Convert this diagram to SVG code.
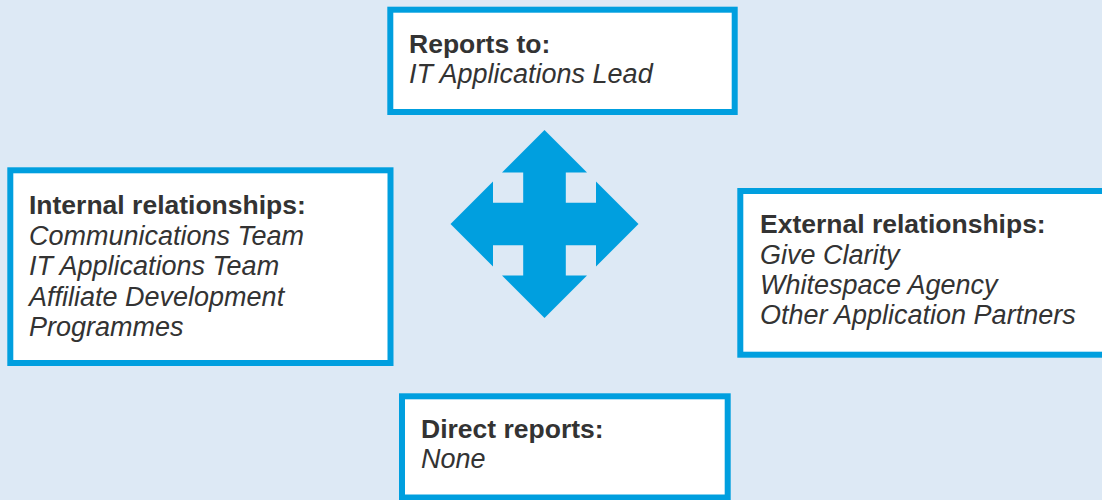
<svg xmlns="http://www.w3.org/2000/svg" width="1102" height="500" viewBox="0 0 1102 500">
  <style>
    .box { fill: #ffffff; stroke: #009fdf; stroke-width: 6; }
    .h { font-family: "Liberation Sans", Arial, sans-serif; font-size: 26.5px; font-weight: bold; fill: #333333; }
    .t { font-family: "Liberation Sans", Arial, sans-serif; font-size: 27px; font-style: italic; fill: #333333; }
    .arrow { fill: #009fdf; }
  </style>
  <rect width="1102" height="500" fill="#dde9f5"/>
  <g id="connectors">
    <path class="arrow" d="M544.5,130 L587,172.5 L565.8,172.5 L565.8,202.7 L596,202.7 L596,181.5 L638.5,224 L596,266.5 L596,245.3 L565.8,245.3 L565.8,275.5 L587,275.5 L544.5,318 L502,275.5 L523.2,275.5 L523.2,245.3 L493,245.3 L493,266.5 L450.5,224 L493,181.5 L493,202.7 L523.2,202.7 L523.2,172.5 L502,172.5 Z"/>
  </g>
  <g id="reports-to">
    <rect class="box" x="390.3" y="9.7" width="344.4" height="102.3"/>
    <text class="h" x="409" y="53.3">Reports to:</text>
    <text class="t" x="409" y="83.3">IT Applications Lead</text>
  </g>
  <g id="internal">
    <rect class="box" x="10.3" y="170.3" width="380.2" height="192.7"/>
    <text class="h" x="29" y="214">Internal relationships:</text>
    <text class="t" x="29" y="244.5">Communications Team</text>
    <text class="t" x="29" y="275">IT Applications Team</text>
    <text class="t" x="29" y="305.5">Affiliate Development</text>
    <text class="t" x="29" y="336">Programmes</text>
  </g>
  <g id="external">
    <rect class="box" x="740.3" y="191" width="380" height="163.7"/>
    <text class="h" x="760" y="233.3">External relationships:</text>
    <text class="t" x="760" y="263.5">Give Clarity</text>
    <text class="t" x="760" y="293.5">Whitespace Agency</text>
    <text class="t" x="760" y="324">Other Application Partners</text>
  </g>
  <g id="direct-reports">
    <rect class="box" x="402" y="396.3" width="325.7" height="101.2"/>
    <text class="h" x="421" y="438.3">Direct reports:</text>
    <text class="t" x="421" y="468.3">None</text>
  </g>
</svg>
